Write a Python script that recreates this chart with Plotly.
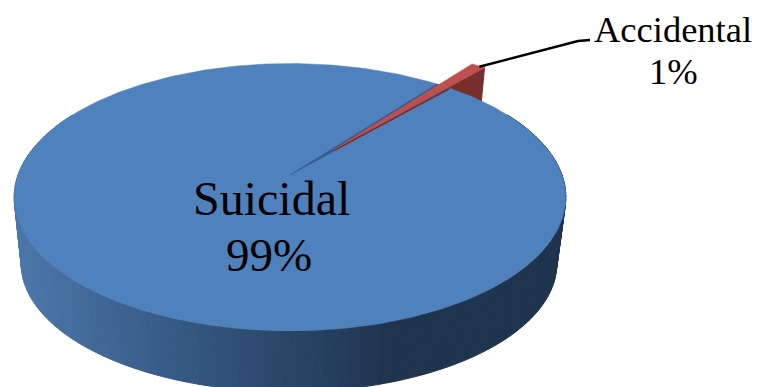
import numpy as np
import plotly.graph_objects as go

categories = ["Suicidal", "Accidental"]
shares = [99, 1]
percent_labels = ["99%", "1%"]

W, H = 759, 387
# view: homography of the disc plane (top face and bottom face)
TOP = dict(cx=290, cy=175, R=272, K=130, p=0.166)
BOT = dict(cx=289, cy=242.5, R=264, K=124.5, p=0.166)
START_CW_FROM_TOP = 41.3   # first slice starts here, clockwise
EXPLODE = 0.265


def proj(u, v, P):
    w = 1 + P["p"] * v
    return P["cx"] + P["R"] * u / w, P["cy"] - P["K"] * v / w


def rim(a, P, off=(0, 0)):
    a = np.radians(a)
    return proj(np.cos(a) + off[0], np.sin(a) + off[1], P)


def poly(fig, xs, ys, color, line=None, lw=1):
    fig.add_trace(go.Scatter(x=list(xs), y=list(ys), mode="lines", fill="toself",
                             fillcolor=color, hoverinfo="skip",
                             line=dict(color=line or color, width=lw)))


# slice angles (math convention, counter-clockwise from +x)
sweep = [s / sum(shares) * 360 for s in shares]
a0 = 90 - START_CW_FROM_TOP            # Suicidal starts here and goes clockwise
a_s_end = a0 - sweep[0]
red_lo, red_hi = a0, a0 + sweep[1]     # the remaining gap holds the Accidental slice
mid = np.radians((red_lo + red_hi) / 2)
off = (EXPLODE * np.cos(mid), EXPLODE * np.sin(mid))

COL_TOP = "#4F81BD"
COL_RED = "#C0504D"
COL_RED_DK = "#772F2D"
COL_NOTCH = "#38598a"

stops_x = [13, 60, 120, 200, 280, 340, 400, 565]
stops_r = [76, 70, 62, 52, 43, 37, 31, 31]
stops_g = [120, 112, 100, 86, 71, 62, 52, 52]
stops_b = [172, 160, 146, 126, 105, 92, 77, 77]

fig = go.Figure()

# red slice wall (partly hidden behind the blue top later)
arc = np.linspace(red_lo, red_hi, 8)
tx, ty = rim(red_lo, TOP, off)
bx, by = rim(red_lo, BOT, off)
ax, ay = proj(off[0], off[1], TOP)
poly(fig, [ax, tx, bx, ax], [ay, ty, by, ay], COL_RED_DK)

# blue body side, drawn as thin strips for the horizontal shading
edges = np.linspace(150, 390, 161)
for a1, a2 in zip(edges[:-1], edges[1:]):
    x1, y1 = rim(a1, TOP)
    x2, y2 = rim(a2, TOP)
    x3, y3 = rim(a2, BOT)
    x4, y4 = rim(a1, BOT)
    xm = (x1 + x2) / 2
    c = "rgb(%d,%d,%d)" % (np.interp(xm, stops_x, stops_r),
                           np.interp(xm, stops_x, stops_g),
                           np.interp(xm, stops_x, stops_b))
    poly(fig, [x1, x2, x3, x4, x1], [y1, y2, y3, y4, y1], c)

# blue top face
blue = np.linspace(a0, a_s_end, 400)
bxs, bys = rim(blue, TOP)
poly(fig, bxs, bys, COL_TOP, lw=0.5)

# notch left by the exploded slice (inner wall of the blue slice)
nx, ny = rim(np.array([red_lo, red_hi]), TOP)
cx0, cy0 = proj(0, 0, TOP)
poly(fig, [cx0, nx[1], nx[0], cx0], [cy0, ny[1], ny[0], cy0], COL_NOTCH, lw=0.5)
# thin dark red wall under the wedge's lower edge
fig.add_trace(go.Scatter(x=[ax, nx[0]], y=[ay + 1, ny[0] + 0.5], mode="lines", hoverinfo="skip",
                         line=dict(color=COL_RED_DK, width=1.5)))

# red top face
rx, ry = rim(arc, TOP, off)
poly(fig, [ax, *rx, ax], [ay, *ry, ay], COL_RED, lw=0.5)

# leader line
lx0, ly0 = rim((red_lo + red_hi) / 2, TOP, off)
fig.add_trace(go.Scatter(x=[lx0 + 1, 578, 590], y=[ly0 + 1, 41, 40], mode="lines", hoverinfo="skip",
                         line=dict(color="#000000", width=2.5)))

FONT = "Liberation Serif"
labels = [
    (271, 198.5, categories[0], 48),
    (269, 255, percent_labels[0], 47),
    (673, 29, categories[1], 36.5),
    (673, 71, percent_labels[1], 36.5),
]
for lx, ly, text, size in labels:
    fig.add_annotation(x=lx, y=ly, text=text, showarrow=False, xanchor="center", yanchor="middle",
                       font=dict(family=FONT, size=size, color="#000000"))

fig.update_layout(
    width=W, height=H, showlegend=False, paper_bgcolor="white", plot_bgcolor="white",
    margin=dict(l=0, r=0, t=0, b=0),
    xaxis=dict(range=[0, W], visible=False, fixedrange=True),
    yaxis=dict(range=[H, 0], visible=False, fixedrange=True),
)
fig.write_html("out.html", config={"displayModeBar": False},
               post_script="document.body.style.margin='0';document.body.style.overflow='hidden';")
